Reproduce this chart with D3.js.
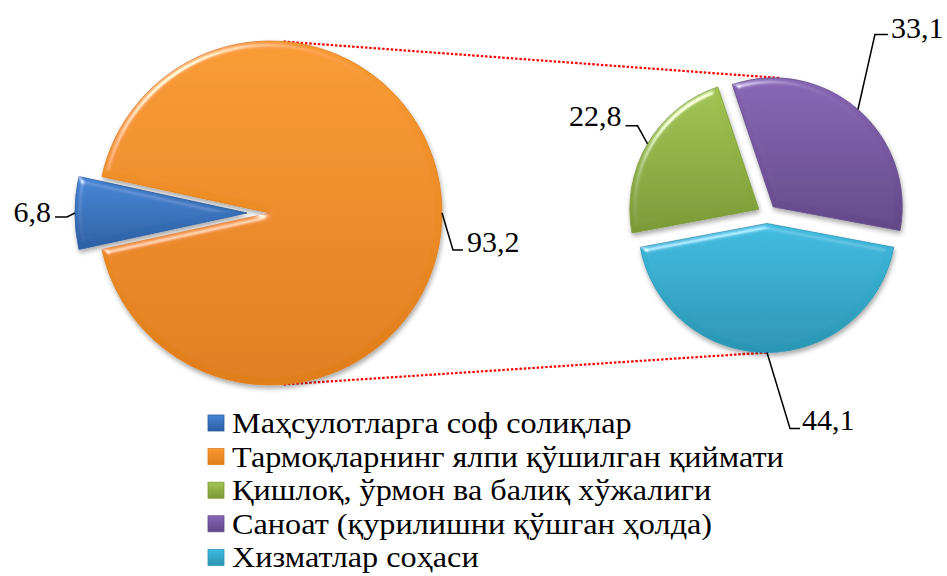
<!DOCTYPE html>
<html>
<head>
<meta charset="utf-8">
<script src="https://cdn.jsdelivr.net/npm/d3@7"></script>
<style>
  html, body { margin: 0; padding: 0; background: #fff; }
  svg { display: block; }
</style>
</head>
<body>
<svg id="chart" width="947" height="576"></svg>
<script>
// ---- data ----
const leftCategories = ["Маҳсулотларга соф солиқлар", "Тармоқларнинг ялпи қўшилган қиймати"];
const leftValues = [6.8, 93.2];
const rightCategories = ["Қишлоқ, ўрмон ва балиқ хўжалиги", "Саноат (қурилишни қўшган ҳолда)", "Хизматлар соҳаси"];
const rightValues = [22.8, 33.1, 44.1];
const legendLabels = leftCategories.concat(rightCategories);
const colorsTop = ["#4586d6", "#f99a32", "#a2c452", "#8765b5", "#3fbce0"];
const colorsBottom = ["#2c5fa3", "#e07d1c", "#7b9a36", "#624888", "#2a95b3"];
const FONT = "Liberation Serif, Times New Roman, serif";

const fmt = v => d3.format(".1f")(v).replace(".", ",");
const rad = d => d * Math.PI / 180;

const svg = d3.select("#chart");
const defs = svg.append("defs");

// gradients
colorsTop.forEach((c, i) => {
  const g = defs.append("linearGradient").attr("id", "grad" + i)
    .attr("x1", 0).attr("y1", 0).attr("x2", 0).attr("y2", 1);
  g.append("stop").attr("offset", "0%").attr("stop-color", c);
  g.append("stop").attr("offset", "100%").attr("stop-color", colorsBottom[i]);
});

// bevel filter
const f = defs.append("filter").attr("id", "bevel").attr("x", "-10%").attr("y", "-10%").attr("width", "125%").attr("height", "125%");
f.append("feGaussianBlur").attr("in", "SourceAlpha").attr("stdDeviation", 3).attr("result", "blur");
const spec = f.append("feSpecularLighting").attr("in", "blur").attr("surfaceScale", 5)
  .attr("specularConstant", 0.9).attr("specularExponent", 30).attr("lighting-color", "#ffffff").attr("result", "spec");
spec.append("feDistantLight").attr("azimuth", 235).attr("elevation", 28);
f.append("feComposite").attr("in", "spec").attr("in2", "SourceAlpha").attr("operator", "in").attr("result", "specIn");
f.append("feComposite").attr("in", "SourceGraphic").attr("in2", "specIn").attr("operator", "arithmetic")
  .attr("k1", 0).attr("k2", 1).attr("k3", 0.8).attr("k4", 0).attr("result", "lit");
f.append("feGaussianBlur").attr("in", "SourceAlpha").attr("stdDeviation", 2.5).attr("result", "sh");
f.append("feOffset").attr("in", "sh").attr("dx", 1).attr("dy", 3).attr("result", "sho");
f.append("feComponentTransfer").attr("in", "sho").attr("result", "shf")
  .append("feFuncA").attr("type", "linear").attr("slope", 0.35);
const m = f.append("feMerge");
m.append("feMergeNode").attr("in", "shf");
m.append("feMergeNode").attr("in", "lit");

// ---- geometry ----
const L = { cx: 270, cy: 213, r: 172, explode: [23, 0] };
const R = { cx: 767, cy: 214, r: 129, explode: [9.5, 9.5, 9.5] };

const leftTotal = d3.sum(leftValues);
const leftStart = rad(270 - leftValues[0] / leftTotal * 180);
const leftPie = d3.pie().sort(null).startAngle(leftStart).endAngle(leftStart + 2 * Math.PI)(leftValues);

const rightTotal = d3.sum(rightValues);
const rightStart = rad(180 - (rightValues[0] + rightValues[1] + rightValues[2] / 2) / rightTotal * 360);
const rightPie = d3.pie().sort(null).startAngle(rightStart).endAngle(rightStart + 2 * Math.PI)(rightValues);

function offset(d, e) {
  const a = (d.startAngle + d.endAngle) / 2;
  return [e * Math.sin(a), -e * Math.cos(a)];
}
function polar(cx, cy, r, a) { return [cx + r * Math.sin(a), cy - r * Math.cos(a)]; }

// connector lines (drawn first, behind)
const conn = svg.append("g");
const lTop = polar(L.cx, L.cy, L.r, rad(4.5));
const lBot = polar(L.cx, L.cy, L.r, rad(175.5));
const pOff = offset(rightPie[1], R.explode[1]);
const cOff = offset(rightPie[2], R.explode[2]);
const rTop = polar(R.cx + pOff[0], R.cy + pOff[1], R.r, rad(3));
const rBot = polar(R.cx + cOff[0], R.cy + cOff[1], R.r, rad(180));
[[lTop, rTop], [lBot, rBot]].forEach(([a, b]) => {
  conn.append("line").attr("x1", a[0]).attr("y1", a[1]).attr("x2", b[0]).attr("y2", b[1])
    .attr("stroke", "#ff0000").attr("stroke-width", 2.2).attr("stroke-dasharray", "2.5,1.8");
});

// pies
function drawPie(P, pieData, colorOffset) {
  const arc = d3.arc().innerRadius(0).outerRadius(P.r);
  const g = svg.append("g").attr("transform", `translate(${P.cx},${P.cy})`);
  g.selectAll("path").data(pieData).join("path")
    .attr("transform", (d, i) => { const o = offset(d, P.explode[i]); return `translate(${o[0]},${o[1]})`; })
    .attr("d", arc)
    .attr("fill", (d, i) => `url(#grad${i + colorOffset})`)
    .attr("stroke", (d, i) => colorsBottom[i + colorOffset])
    .attr("stroke-width", 0.8)
    .attr("filter", "url(#bevel)");
}
drawPie(L, leftPie, 0);
drawPie(R, rightPie, 2);

// data labels with leader lines
const labelSpecs = [
  { P: L, d: leftPie[0], e: L.explode[0], value: leftValues[0], elbow: [-8, 4], end: [-20, 4], anchor: "end", tdx: -4, tdy: 5 },
  { P: L, d: leftPie[1], e: L.explode[1], value: leftValues[1], elbow: [11, 37], end: [21, 37], anchor: "start", tdx: 4, tdy: 2 },
  { P: R, d: rightPie[0], e: R.explode[0], value: rightValues[0], elbow: [-10, -18], end: [-22, -18], anchor: "end", tdx: -4, tdy: 0 },
  { P: R, d: rightPie[1], e: R.explode[1], value: rightValues[1], elbow: [17, -75], end: [30, -75], anchor: "start", tdx: 3, tdy: 3 },
  { P: R, d: rightPie[2], e: R.explode[2], value: rightValues[2], elbow: [23, 76], end: [33, 76], anchor: "start", tdx: 2, tdy: 1 }
];
const lab = svg.append("g");
labelSpecs.forEach(s => {
  const o = offset(s.d, s.e);
  const a = (s.d.startAngle + s.d.endAngle) / 2;
  const p0 = polar(s.P.cx + o[0], s.P.cy + o[1], s.P.r, a);
  const p1 = [p0[0] + s.elbow[0], p0[1] + s.elbow[1]];
  const p2 = [p0[0] + s.end[0], p0[1] + s.end[1]];
  lab.append("path").attr("d", d3.line()([p0, p1, p2]))
    .attr("fill", "none").attr("stroke", "#000").attr("stroke-width", 1.5);
  lab.append("text").attr("x", p2[0] + s.tdx).attr("y", p2[1] + s.tdy)
    .attr("font-family", FONT).attr("fill", "#000")
    .attr("text-anchor", s.anchor).attr("font-size", 30).text(fmt(s.value));
});

// legend
const legend = svg.append("g").attr("transform", "translate(208,423)");
const items = legend.selectAll("g").data(legendLabels).join("g")
  .attr("transform", (d, i) => `translate(0,${i * 33.6})`);
items.append("rect").attr("x", 0).attr("y", -8).attr("width", 16).attr("height", 16)
  .attr("fill", (d, i) => `url(#grad${i})`).attr("stroke", (d, i) => colorsBottom[i]).attr("stroke-width", 0.8);
items.append("text").attr("transform", "translate(24,10) scale(1.075,1)").attr("font-size", 30)
  .attr("font-family", FONT).attr("fill", "#000").text(d => d);
</script>
</body>
</html>
